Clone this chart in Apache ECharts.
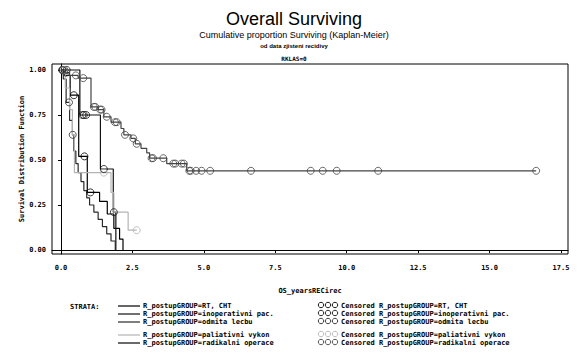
<!DOCTYPE html>
<html><head><meta charset="utf-8">
<script src="https://cdn.jsdelivr.net/npm/echarts@6/dist/echarts.min.js"></script>
<style>html,body{margin:0;padding:0;background:#fff}#c{width:588px;height:359px}</style>
</head><body><div id="c"></div>
<script>
// ---- data ----
const groupNames = ["RT, CHT", "inoperativni pac.", "odmita lecbu", "paliativni vykon", "radikalni operace"];
const xTicks = [0, 2.5, 5, 7.5, 10, 12.5, 15, 17.5];
const yTicks = [0, 0.25, 0.5, 0.75, 1];

const rtTimes = [0, 0.12, 0.32, 0.62, 0.92, 1.35, 1.62, 1.85, 2.05, 2.17];
const rtSurv  = [1, 0.97, 0.86, 0.52, 0.32, 0.27, 0.20, 0.12, 0.06, 0];
const rtCensT = [0.06, 0.45, 0.82, 1.03];
const rtCensS = [1, 0.86, 0.52, 0.32];

const inTimes = [0, 0.66, 1.38, 1.83, 1.92];
const inSurv  = [1, 0.75, 0.45, 0.21, 0];
const inCensT = [0.12, 0.2, 0.75, 0.8, 0.88, 1.5, 1.85];
const inCensS = [1, 1, 0.75, 0.75, 0.75, 0.45, 0.21];

const odTimes = [0, 0.08, 0.18, 0.3, 0.4, 0.45, 0.52, 0.6, 0.7, 0.8, 0.9, 1.0, 1.15, 1.3, 1.45, 1.6, 1.75, 1.9];
const odSurv  = [1, 0.95, 0.82, 0.72, 0.64, 0.55, 0.48, 0.43, 0.38, 0.33, 0.29, 0.25, 0.21, 0.17, 0.13, 0.09, 0.05, 0];
const odCensT = [0.04, 0.28, 0.41];
const odCensS = [1, 0.82, 0.64];

const paTimes = [0, 0.15, 0.3, 0.4, 0.47, 1.75, 1.85, 2.35, 2.65];
const paSurv  = [1, 0.9, 0.78, 0.64, 0.43, 0.32, 0.21, 0.11, 0.11];
const paCensT = [0.1, 1.5, 2.65];
const paCensS = [1, 0.43, 0.11];

const raTimes = [0, 0.1, 0.3, 0.6, 1.05, 1.3, 1.5, 1.75, 2.1, 2.2, 2.45, 2.6, 2.8, 3.0, 3.1, 3.7, 4.4, 16.63];
const raSurv  = [1, 0.985, 0.97, 0.955, 0.795, 0.78, 0.74, 0.71, 0.675, 0.64, 0.62, 0.59, 0.565, 0.54, 0.51, 0.48, 0.44, 0.44];
const raCensT = [0.05, 0.18, 0.52, 0.78, 1.15, 1.2, 1.37, 1.42, 1.6, 1.89, 1.95, 2.24, 2.53, 2.65, 3.17, 3.22, 3.58, 3.93, 4.0, 4.22, 4.3, 4.49, 4.54, 4.73, 4.92, 5.22, 6.65, 8.74, 9.16, 9.65, 11.1, 16.63];
const raCensS = [1, 0.985, 0.97, 0.955, 0.795, 0.795, 0.78, 0.78, 0.74, 0.71, 0.71, 0.64, 0.62, 0.59, 0.51, 0.51, 0.51, 0.48, 0.48, 0.48, 0.48, 0.44, 0.44, 0.44, 0.44, 0.44, 0.44, 0.44, 0.44, 0.44, 0.44, 0.44];

const groupColors = ["#000000", "#111111", "#2a2a2a", "#b4b4b4", "#444444"];
// ---------------------------------------

const groups = [
  [rtTimes, rtSurv, rtCensT, rtCensS],
  [inTimes, inSurv, inCensT, inCensS],
  [odTimes, odSurv, odCensT, odCensS],
  [paTimes, paSurv, paCensT, paCensS],
  [raTimes, raSurv, raCensT, raCensS]
];
const zip = (a, b) => a.map((v, i) => [v, b[i]]);
const series = [];
groups.forEach((g, i) => {
  series.push({
    type: 'line', step: 'end', showSymbol: false, silent: true,
    data: zip(g[0], g[1]),
    lineStyle: {color: groupColors[i], width: 1.2},
    z: 2 + i
  });
  series.push({
    type: 'scatter', symbol: 'circle', symbolSize: 7,
    data: zip(g[2], g[3]),
    itemStyle: {color: 'rgba(255,255,255,0)', borderColor: groupColors[i], borderWidth: 1},
    z: 10 + i
  });
});

const mono = 'DejaVu Sans Mono';
const chart = echarts.init(document.getElementById('c'), null, {renderer: 'svg'});

// legend drawn as graphic
const gfx = [];
gfx.push({type: 'text', left: 70, top: 303, style: {text: 'STRATA:', font: 'bold 7px ' + mono, fill: '#000'}});
const rowsY = [307, 315, 323, 336, 344];
groupNames.forEach((n, i) => {
  const y = rowsY[i];
  gfx.push({type: 'line', shape: {x1: 118, y1: y - 1, x2: 140, y2: y - 1}, style: {stroke: groupColors[i], lineWidth: i === 4 ? 1.6 : 1.2}});
  gfx.push({type: 'text', left: 143, top: y - 5, style: {text: 'R_postupGROUP=' + n, font: 'bold 7px ' + mono, fill: '#000'}});
  [321, 328, 335].forEach(cx => gfx.push({type: 'circle', shape: {cx: cx, cy: y - 2, r: 2.7}, style: {fill: 'none', stroke: groupColors[i], lineWidth: 0.9}}));
  gfx.push({type: 'text', left: 341, top: y - 5, style: {text: 'Censored R_postupGROUP=' + n, font: 'bold 7px ' + mono, fill: '#000'}});
});

chart.setOption({
  animation: false,
  backgroundColor: '#fff',
  title: [
    {text: 'Overall Surviving', left: 'center', top: 5, textStyle: {fontFamily: 'Liberation Sans', fontSize: 18, fontWeight: 'normal', color: '#000'}},
    {text: 'Cumulative proportion Surviving (Kaplan-Meier)', left: 'center', top: 25, textStyle: {fontFamily: 'Liberation Sans', fontSize: 9, fontWeight: 'normal', color: '#000'}},
    {text: 'od data zjisteni recidivy', left: 'center', top: 38, textStyle: {fontFamily: 'Liberation Sans', fontSize: 6, fontWeight: 'bold', color: '#000'}},
    {text: 'RKLAS=0', left: 'center', top: 50, textStyle: {fontFamily: mono, fontSize: 6, fontWeight: 'bold', color: '#000'}}
  ],
  grid: {left: 52, right: 20, top: 64, bottom: 105, show: true, borderColor: '#000', borderWidth: 1, containLabel: false},
  xAxis: {
    type: 'value', min: -0.315, max: 17.745,
    axisLine: {show: true, lineStyle: {color: '#000', width: 1}},
    axisTick: {show: true, length: 3, customValues: xTicks, lineStyle: {color: '#000'}},
    axisLabel: {customValues: xTicks, formatter: v => v.toFixed(1), fontFamily: mono, fontSize: 7, fontWeight: 'bold', color: '#000', margin: 10},
    splitLine: {show: false},
    name: 'OS_yearsRECirec', nameLocation: 'middle', nameGap: 33, nameMoveOverlap: false,
    nameTextStyle: {fontFamily: mono, fontSize: 7, fontWeight: 'bold', color: '#000'}
  },
  yAxis: {
    type: 'value', min: -0.0222, max: 1.0333,
    axisLine: {show: true, lineStyle: {color: '#000', width: 1}},
    axisTick: {show: true, length: 3, customValues: yTicks, lineStyle: {color: '#000'}},
    axisLabel: {customValues: yTicks, formatter: v => v.toFixed(2), fontFamily: mono, fontSize: 7, fontWeight: 'bold', color: '#000', margin: 6},
    splitLine: {show: false},
    name: 'Survival Distribution Function', nameLocation: 'middle', nameGap: 27, nameMoveOverlap: false,
    nameTextStyle: {fontFamily: mono, fontSize: 7, fontWeight: 'bold', color: '#000'}
  },
  graphic: gfx,
  series: series
});
</script></body></html>
